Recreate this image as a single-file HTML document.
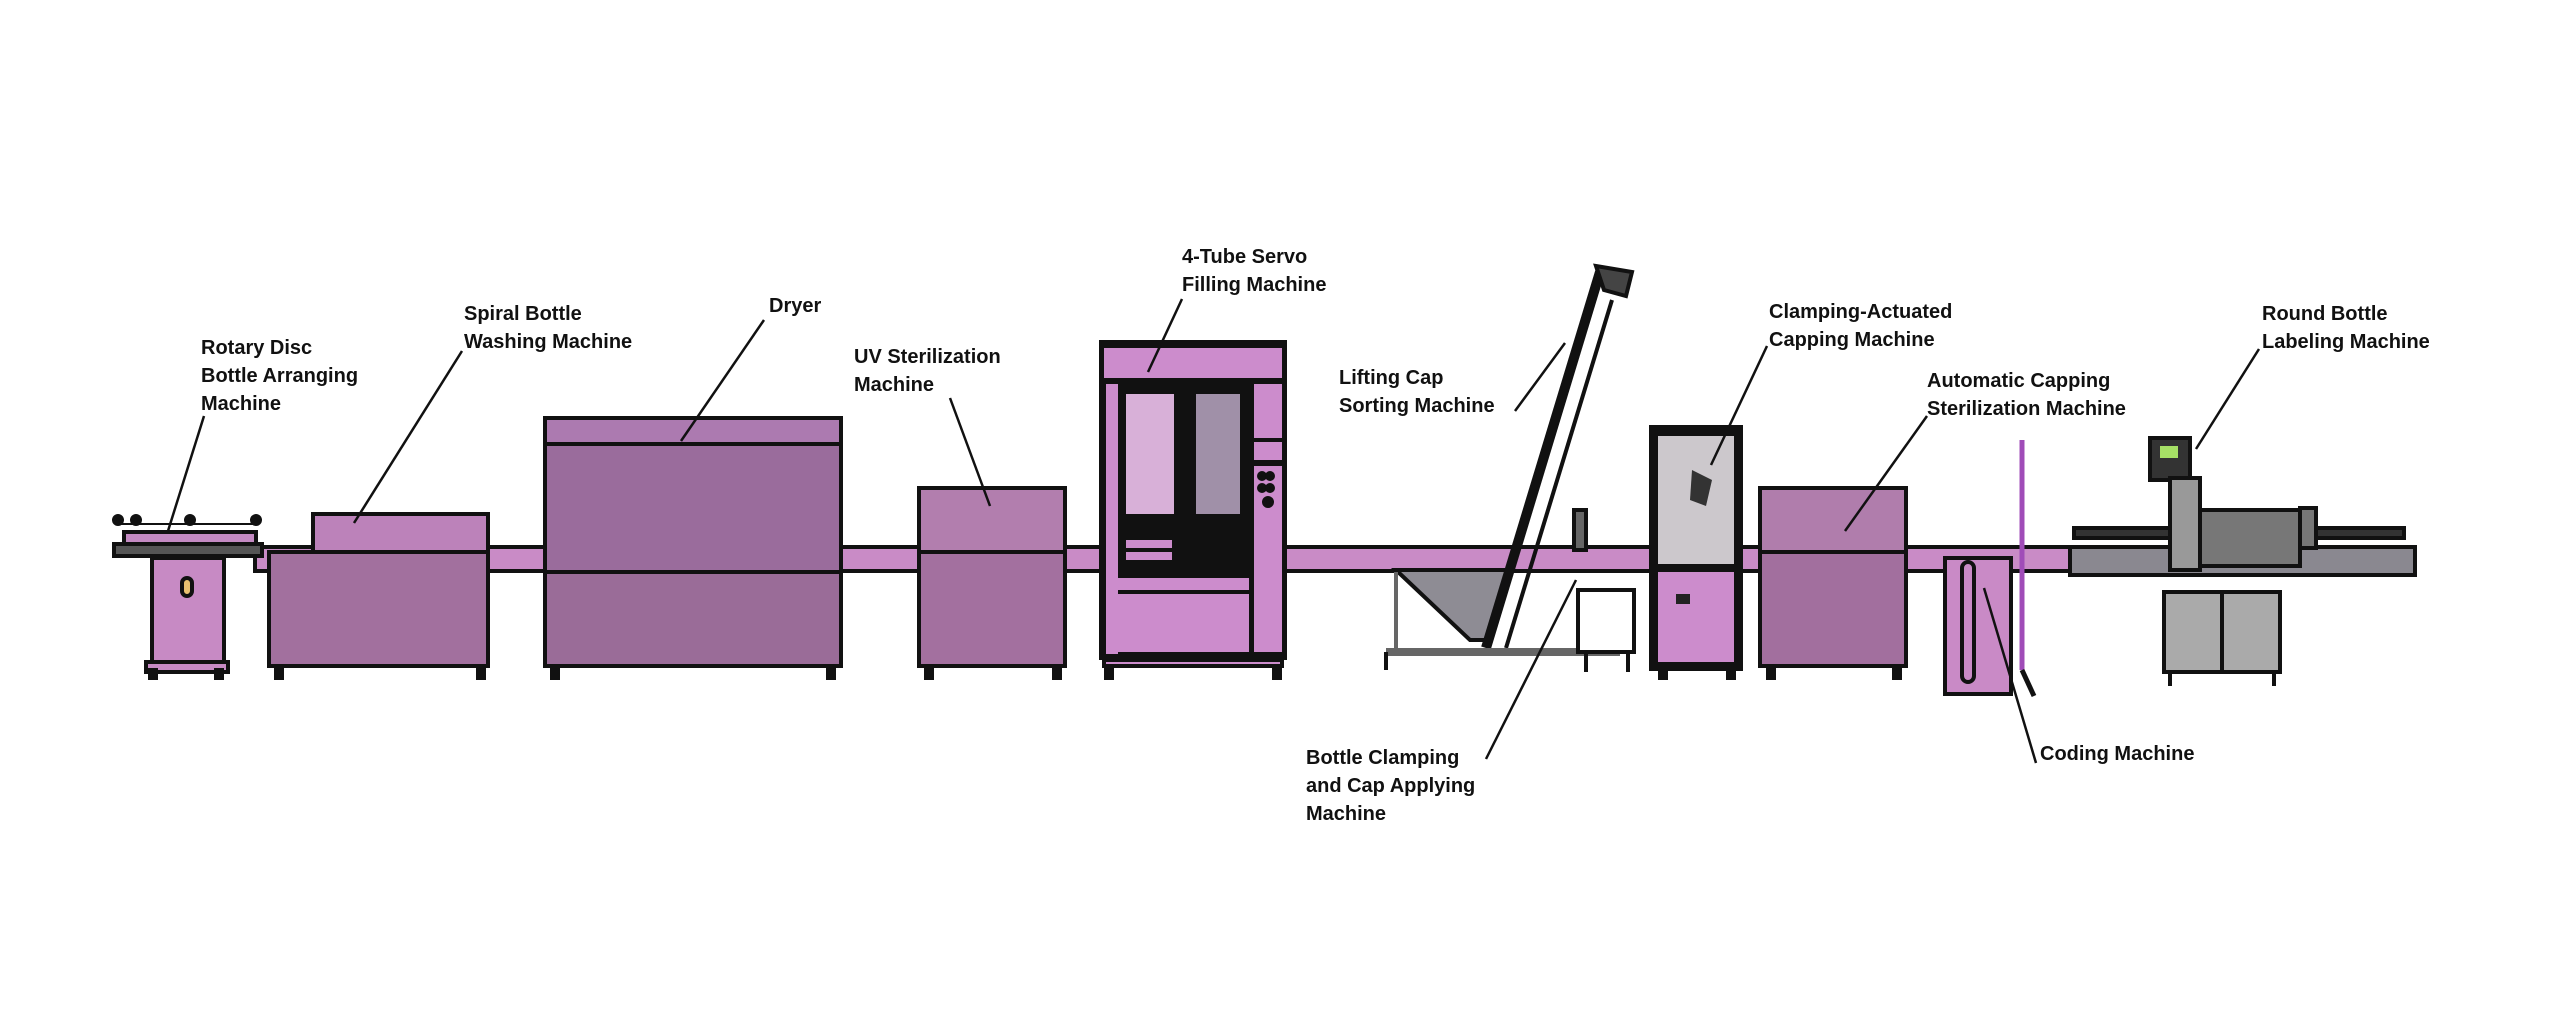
<!DOCTYPE html>
<html><head><meta charset="utf-8"><style>
html,body{margin:0;padding:0;background:#fff;}
svg{display:block}
text{font-family:"Liberation Sans",sans-serif;font-weight:bold;font-size:20px;fill:#111;}
</style></head><body>
<svg width="2560" height="1021" viewBox="0 0 2560 1021" xmlns="http://www.w3.org/2000/svg">
<rect width="2560" height="1021" fill="#fff"/>
<g stroke="#111" stroke-width="4">
<!-- main conveyor -->
<rect x="255" y="547" width="1830" height="24" fill="#c98bc6"/>
<rect x="2070" y="547" width="345" height="28" fill="#8a8890"/>

<!-- rotary disc -->
<rect x="124" y="532" width="132" height="12" fill="#c48ac2"/>
<rect x="114" y="544" width="148" height="12" fill="#555"/>
<rect x="152" y="558" width="72" height="106" fill="#c78ac4"/>
<rect x="182" y="578" width="10" height="18" rx="5" fill="#e8c070"/>
<rect x="146" y="662" width="82" height="10" fill="#c78ac4"/>
<line x1="118" y1="524" x2="258" y2="524" stroke-width="2"/>
<circle cx="118" cy="520" r="4" fill="#111"/><circle cx="136" cy="520" r="4" fill="#111"/><circle cx="190" cy="520" r="4" fill="#111"/><circle cx="256" cy="520" r="4" fill="#111"/>

<!-- spiral washer -->
<rect x="313" y="514" width="175" height="38" fill="#bc82ba"/>
<rect x="269" y="552" width="219" height="114" fill="#a2709e"/>

<!-- dryer -->
<rect x="545" y="418" width="296" height="26" fill="#ac7ab0"/>
<rect x="545" y="444" width="296" height="128" fill="#9a6c9c"/>
<rect x="545" y="572" width="296" height="94" fill="#9a6c98"/>
<!-- UV -->
<rect x="919" y="488" width="146" height="64" fill="#b27eae"/>
<rect x="919" y="552" width="146" height="114" fill="#a3709f"/>

<!-- filler -->
<rect x="1101" y="342" width="184" height="316" fill="#111"/>
<rect x="1104" y="348" width="178" height="30" fill="#cc8ccc" stroke="none"/>
<rect x="1106" y="384" width="12" height="270" fill="#cc8ccc" stroke="none"/>
<rect x="1254" y="384" width="28" height="54" fill="#cc8ccc" stroke="none"/>
<rect x="1254" y="442" width="28" height="18" fill="#cc8ccc" stroke="none"/>
<rect x="1254" y="466" width="28" height="186" fill="#cc8ccc" stroke="none"/>
<rect x="1126" y="394" width="48" height="120" fill="#d8b0d8" stroke="none"/>
<rect x="1196" y="394" width="44" height="120" fill="#a090a8" stroke="none"/>
<rect x="1126" y="540" width="46" height="8" fill="#cc8ccc" stroke="none"/>
<rect x="1126" y="552" width="46" height="8" fill="#cc8ccc" stroke="none"/>
<rect x="1117" y="578" width="132" height="12" fill="#cc8ccc" stroke="none"/>
<rect x="1117" y="594" width="132" height="58" fill="#cc8ccc" stroke="none"/>
<rect x="1104" y="660" width="178" height="6" fill="#cc8ccc"/>
<circle cx="1262" cy="476" r="3" fill="#111"/><circle cx="1270" cy="476" r="3" fill="#111"/><circle cx="1262" cy="488" r="3" fill="#111"/><circle cx="1270" cy="488" r="3" fill="#111"/><circle cx="1268" cy="502" r="4" fill="#111"/>

<!-- lifting cap sorter -->
<polygon points="1396,570 1510,570 1490,640 1470,640" fill="#8e8c94"/>
<line x1="1486" y1="648" x2="1600" y2="272" stroke-width="10"/>
<line x1="1506" y1="648" x2="1612" y2="300" stroke-width="4"/>
<polygon points="1596,266 1632,272 1626,296 1604,290" fill="#444"/>
<line x1="1386" y1="652" x2="1620" y2="652" stroke-width="8" stroke="#666"/>
<line x1="1396" y1="572" x2="1396" y2="652" stroke="#666"/>
<line x1="1386" y1="652" x2="1386" y2="670"/>
<rect x="1574" y="510" width="12" height="40" fill="#666"/>
<!-- clamping stand -->
<rect x="1578" y="590" width="56" height="62" fill="#fff"/>
<line x1="1586" y1="652" x2="1586" y2="672"/><line x1="1628" y1="652" x2="1628" y2="672"/>

<!-- clamping capping -->
<rect x="1651" y="427" width="90" height="242" fill="#111"/>
<rect x="1658" y="436" width="76" height="128" fill="#ccc8cc" stroke="none"/>
<rect x="1658" y="572" width="76" height="90" fill="#cc8ccc" stroke="none"/>
<rect x="1676" y="594" width="14" height="10" fill="#222" stroke="none"/>
<polygon points="1692,470 1712,480 1706,506 1690,500" fill="#333" stroke="none"/>

<!-- auto capping sterilization -->
<rect x="1760" y="488" width="146" height="64" fill="#b07dac"/>
<rect x="1760" y="552" width="146" height="114" fill="#a26f9e"/>

<!-- coding -->
<rect x="1945" y="558" width="66" height="136" fill="#c98ac6"/>
<rect x="1962" y="562" width="12" height="120" rx="6" fill="none"/>
<line x1="2022" y1="440" x2="2022" y2="670" stroke="#a04cb8" stroke-width="5"/>
<line x1="2022" y1="670" x2="2034" y2="696" stroke-width="5"/>

<!-- labeling -->
<rect x="2074" y="528" width="330" height="10" fill="#333"/>
<rect x="2150" y="438" width="40" height="42" fill="#333"/>
<rect x="2160" y="446" width="18" height="12" fill="#a6e066" stroke="none"/>
<rect x="2170" y="478" width="30" height="92" fill="#999"/>
<rect x="2200" y="510" width="100" height="56" fill="#777"/>
<rect x="2164" y="592" width="116" height="80" fill="#aaa"/>
<line x1="2222" y1="592" x2="2222" y2="672"/>
<rect x="2300" y="508" width="16" height="40" fill="#777"/>
<line x1="2170" y1="672" x2="2170" y2="686"/><line x1="2274" y1="672" x2="2274" y2="686"/>
</g>
<!-- feet -->
<g fill="#111">
<rect x="148" y="668" width="10" height="12"/><rect x="214" y="668" width="10" height="12"/>
<rect x="274" y="668" width="10" height="12"/><rect x="476" y="668" width="10" height="12"/>
<rect x="550" y="668" width="10" height="12"/><rect x="826" y="668" width="10" height="12"/>
<rect x="924" y="668" width="10" height="12"/><rect x="1052" y="668" width="10" height="12"/>
<rect x="1104" y="668" width="10" height="12"/><rect x="1272" y="668" width="10" height="12"/>
<rect x="1658" y="668" width="10" height="12"/><rect x="1726" y="668" width="10" height="12"/>
<rect x="1766" y="668" width="10" height="12"/><rect x="1892" y="668" width="10" height="12"/>
</g>
<!-- leaders -->
<g stroke="#111" stroke-width="2.5" fill="none">
<line x1="204" y1="416" x2="168" y2="531"/>
<line x1="462" y1="351" x2="354" y2="523"/>
<line x1="764" y1="320" x2="681" y2="441"/>
<line x1="950" y1="398" x2="990" y2="506"/>
<line x1="1182" y1="299" x2="1148" y2="372"/>
<line x1="1515" y1="411" x2="1565" y2="343"/>
<line x1="1767" y1="346" x2="1711" y2="465"/>
<line x1="1927" y1="416" x2="1845" y2="531"/>
<line x1="2259" y1="349" x2="2196" y2="449"/>
<line x1="1486" y1="759" x2="1576" y2="580"/>
<line x1="2036" y1="763" x2="1984" y2="588"/>
</g>
<!-- labels -->
<text x="201" y="354">Rotary Disc</text><text x="201" y="382">Bottle Arranging</text><text x="201" y="410">Machine</text>
<text x="464" y="320">Spiral Bottle</text><text x="464" y="348">Washing Machine</text>
<text x="769" y="312">Dryer</text>
<text x="854" y="363">UV Sterilization</text><text x="854" y="391">Machine</text>
<text x="1182" y="263">4-Tube Servo</text><text x="1182" y="291">Filling Machine</text>
<text x="1339" y="384">Lifting Cap</text><text x="1339" y="412">Sorting Machine</text>
<text x="1769" y="318">Clamping-Actuated</text><text x="1769" y="346">Capping Machine</text>
<text x="1927" y="387">Automatic Capping</text><text x="1927" y="415">Sterilization Machine</text>
<text x="2262" y="320">Round Bottle</text><text x="2262" y="348">Labeling Machine</text>
<text x="1306" y="764">Bottle Clamping</text><text x="1306" y="792">and Cap Applying</text><text x="1306" y="820">Machine</text>
<text x="2040" y="760">Coding Machine</text>
</svg>
</body></html>
